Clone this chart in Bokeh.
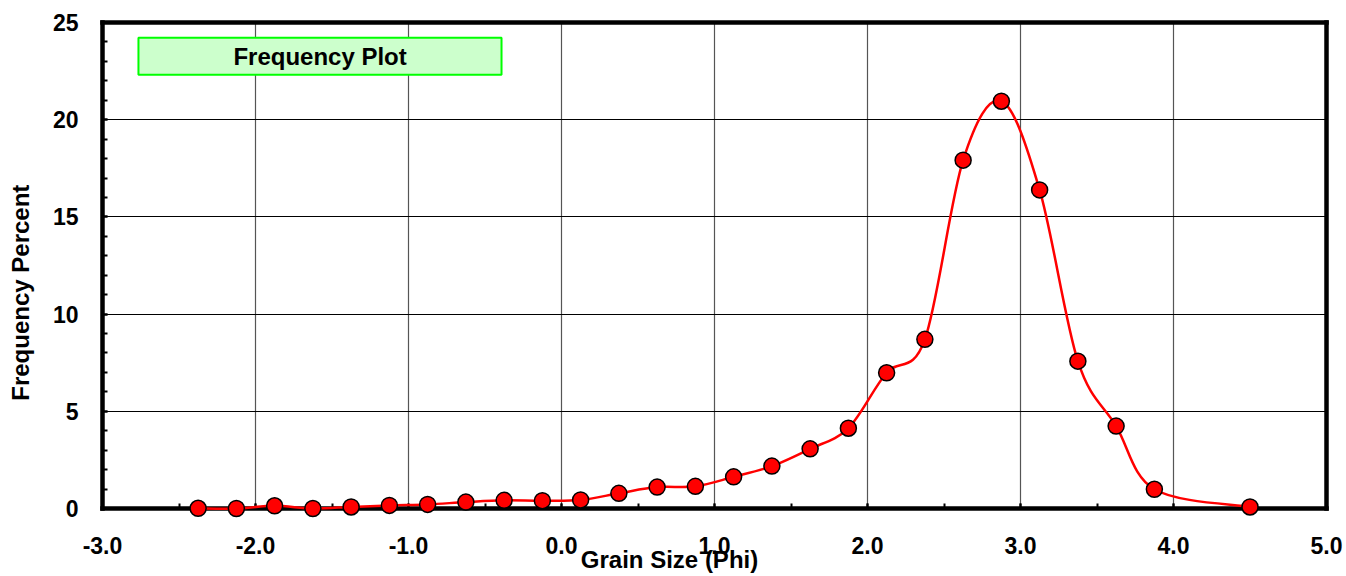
import numpy as np
from bokeh.plotting import figure
from bokeh.models import (Range1d, FixedTicker, Label, BoxAnnotation, Grid,
                          NumeralTickFormatter, ColumnDataSource)
from bokeh.embed import file_html
from bokeh.resources import INLINE

# ---- data ----
grain_size = [-2.375, -2.125, -1.875, -1.625, -1.375, -1.125, -0.875, -0.625, -0.375,
              -0.125, 0.125, 0.375, 0.625, 0.875, 1.125, 1.375, 1.625, 1.875, 2.125,
              2.375, 2.625, 2.875, 3.125, 3.375, 3.625, 3.875, 4.5]
frequency = [0.01, 0.0, 0.14, 0.0, 0.08, 0.16, 0.21, 0.33, 0.42,
             0.40, 0.44, 0.78, 1.1, 1.14, 1.63, 2.18, 3.07, 4.13, 6.98,
             8.7, 17.92, 20.95, 16.39, 7.58, 4.24, 0.99, 0.08]
x_ticks = [-3, -2, -1, 0, 1, 2, 3, 4, 5]
x_minor = [-3, -2.5, -2, -1.5, -1, -0.5, 0, 0.5, 1, 1.5, 2, 2.5, 3, 3.5, 4, 4.5, 5]
y_ticks = [0, 5, 10, 15, 20, 25]
y_minor = list(range(0, 26))
title_text = "Frequency Plot"
x_title = "Grain Size (Phi)"
y_title = "Frequency Percent"

X0, X1, Y0, Y1 = -3, 5, 0, 25          # plot-area limits

FONT = "Liberation Sans"
TICK_FS = "23px"
TITLE_FS = "24px"

# whole canvas is the frame; the plot area (-3..5, 0..25) sits at px 102..1326, 22..508
PX_X = 153.0
PX_Y = 486.0 / 25.0
p = figure(width=1346, height=576, min_border=0,
           x_range=Range1d(X0 - 102 / PX_X, X0 + (1346 - 102) / PX_X),
           y_range=Range1d(Y0 - (576 - 508) / PX_Y, Y1 + 22 / PX_Y),
           output_backend="svg", toolbar_location=None, tools="")
p.outline_line_color = None
p.background_fill_color = "white"
p.border_fill_color = "white"

# grids, limited to the plot area
p.xgrid.ticker = FixedTicker(ticks=x_ticks)
p.ygrid.ticker = FixedTicker(ticks=y_ticks)
p.xgrid.grid_line_color = "#555555"
p.xgrid.grid_line_width = 1.2
p.ygrid.grid_line_color = "black"
p.ygrid.grid_line_width = 1
if "cross_bounds" in Grid.properties():
    p.xgrid.cross_bounds = (Y0, Y1)
    p.ygrid.cross_bounds = (X0, X1)
else:
    p.xgrid.visible = False
    p.ygrid.visible = False
    p.segment(x0=x_ticks, y0=[Y0] * len(x_ticks), x1=x_ticks, y1=[Y1] * len(x_ticks),
              line_color="#555555", line_width=1.2, level="underlay")
    p.segment(x0=[X0] * len(y_ticks), y0=y_ticks, x1=[X1] * len(y_ticks), y1=y_ticks,
              line_color="black", line_width=1, level="underlay")


def style_axis(ax):
    ax.axis_line_color = None
    ax.major_tick_in = 5
    ax.major_tick_out = 0
    ax.minor_tick_in = 5
    ax.minor_tick_out = 0
    ax.major_tick_line_width = 2
    ax.minor_tick_line_width = 2
    ax.major_tick_line_color = "black"
    ax.minor_tick_line_color = "black"
    ax.major_label_text_font = FONT
    ax.major_label_text_font_style = "bold"
    ax.major_label_text_font_size = TICK_FS
    ax.major_label_text_color = "black"


xa = p.xaxis[0]
xa.fixed_location = Y0
xa.bounds = (X0, X1)
xa.ticker = FixedTicker(ticks=x_ticks, minor_ticks=x_minor)
xa.formatter = NumeralTickFormatter(format="0.0")
style_axis(xa)
xa.major_label_standoff = 28

ya = p.yaxis[0]
ya.fixed_location = X0
ya.bounds = (Y0, Y1)
ya.ticker = FixedTicker(ticks=y_ticks, minor_ticks=y_minor)
style_axis(ya)
ya.major_label_standoff = 24

# thick border of the plot area as four line segments (under the data marks)
p.segment(x0=[X0, X1, X0, X0], y0=[Y0, Y0, Y0, Y1],
          x1=[X0, X1, X1, X1], y1=[Y1, Y1, Y0, Y1],
          line_color="black", line_width=4.5, line_cap="square", level="overlay")

# smoothed curve (Catmull-Rom -> cubic Bezier) from the data points
xs = np.array(grain_size, dtype=float)
ys = np.array(frequency, dtype=float)
n = len(xs)
xp = np.concatenate([[xs[0]], xs, [xs[-1]]])
yp = np.concatenate([[ys[0]], ys, [ys[-1]]])
i = np.arange(n - 1)
cx0 = xs[i] + (xp[i + 2] - xp[i]) / 6.0
cy0 = ys[i] + (yp[i + 2] - yp[i]) / 6.0
cx1 = xs[i + 1] - (xp[i + 3] - xp[i + 1]) / 6.0
cy1 = ys[i + 1] - (yp[i + 3] - yp[i + 1]) / 6.0
p.bezier(x0=xs[:-1], y0=ys[:-1], x1=xs[1:], y1=ys[1:],
         cx0=cx0, cy0=cy0, cx1=cx1, cy1=cy1,
         line_color="#ff0000", line_width=2.5, level="overlay")

src = ColumnDataSource(dict(x=grain_size, y=frequency))
p.scatter("x", "y", source=src, size=16, fill_color="#ff0000",
          line_color="black", line_width=1.5, level="overlay")

# title box
p.add_layout(BoxAnnotation(left=-2.765, right=-0.392, bottom=22.31, top=24.22,
                           fill_color="#ccffcc", fill_alpha=1, line_color="#00ff00",
                           line_alpha=1, line_width=2, level="annotation"))
p.add_layout(Label(x=-1.578, y=23.26, text=title_text, text_align="center",
                   text_baseline="middle", text_font=FONT, text_font_style="bold",
                   text_font_size=TITLE_FS, text_color="black"))

# axis titles
p.add_layout(Label(x=0.706, y=-2.6, text=x_title, text_align="center",
                   text_baseline="middle", text_font=FONT, text_font_style="bold",
                   text_font_size=TITLE_FS, text_color="black"))
p.add_layout(Label(x=-3.536, y=11.1, text=y_title, text_align="center",
                   text_baseline="middle", angle=np.pi / 2, text_font=FONT,
                   text_font_style="bold", text_font_size=TITLE_FS, text_color="black"))

open("out.html", "w").write(file_html(p, INLINE))
